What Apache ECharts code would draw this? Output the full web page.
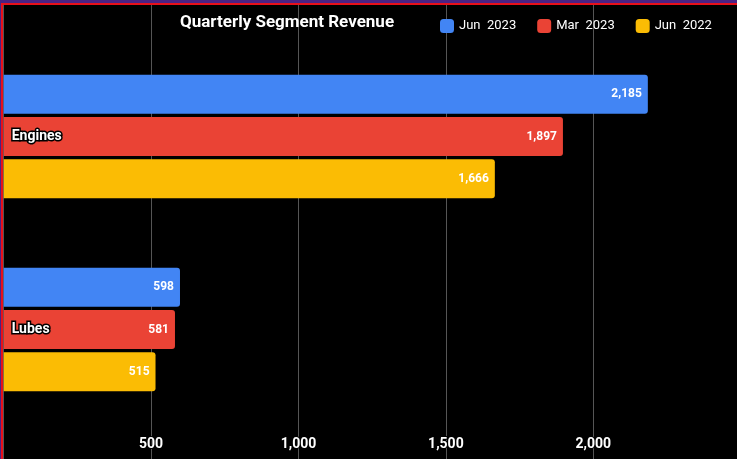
<!DOCTYPE html>
<html>
<head>
<meta charset="utf-8">
<script src="https://cdn.jsdelivr.net/npm/echarts@6/dist/echarts.min.js"></script>
<style>
  html, body { margin: 0; padding: 0; background: #000; }
  #chart { width: 737px; height: 459px; }
</style>
</head>
<body>
<div id="chart"></div>
<script>
const categories = ['Engines', 'Lubes'];
const seriesNames = ['Jun 2023', 'Mar 2023', 'Jun 2022'];
const jun2023 = [2185, 598];
const mar2023 = [1897, 581];
const jun2022 = [1666, 515];
const colors = ['#4285F4', '#EA4335', '#FBBC04'];

const fmt = v => String(v).replace(/\B(?=(\d{3})+(?!\d))/g, ',');

const chart = echarts.init(document.getElementById('chart'));

function makeSeries(name, data, color) {
  return {
    name,
    type: 'bar',
    xAxisIndex: 0,
    yAxisIndex: 0,
    data,
    barGap: '8%',
    barCategoryGap: '36%',
    itemStyle: { color, borderRadius: [0, 3, 3, 0] },
    label: {
      show: true,
      position: 'insideRight',
      distance: 6,
      color: '#fff',
      fontFamily: 'Roboto',
      fontWeight: 'bold',
      fontSize: 12,
      formatter: p => fmt(p.value),
    },
  };
}

chart.setOption({
  backgroundColor: '#000',
  animation: false,
  title: {
    text: 'Quarterly Segment Revenue',
    left: 175,
    top: 9,
    textStyle: { color: '#fff', fontFamily: 'Roboto', fontWeight: 'bold', fontSize: 17 },
  },
  legend: {
    data: seriesNames,
    left: 435,
    top: 14,
    icon: 'roundRect',
    itemWidth: 14,
    itemHeight: 14,
    itemGap: 21,
    formatter: name => name.replace(' ', '  '),
    textStyle: { color: '#fff', fontFamily: 'Roboto', fontSize: 13 },
  },
  grid: [
    { left: 3.7, width: 737, top: 40, bottom: 33, outerBoundsMode: 'none' },
    { left: 3.7, width: 737, top: 5, bottom: 0, outerBoundsMode: 'none' },
  ],
  xAxis: [
    {
      gridIndex: 0,
      type: 'value',
      min: 0,
      max: 2500,
      interval: 500,
      axisLine: { show: false },
      axisTick: { show: false },
      splitLine: { show: false },
      axisLabel: {
        margin: 11,
        color: '#fff',
        fontFamily: 'Roboto',
        fontWeight: 'bold',
        fontSize: 14,
        textBorderColor: '#000',
        textBorderWidth: 2,
        formatter: v => (v === 0 || v === 2500 ? '' : fmt(v)),
      },
    },
    {
      gridIndex: 1,
      type: 'value',
      min: 0,
      max: 2500,
      interval: 500,
      axisLine: { show: false },
      axisTick: { show: false },
      axisLabel: { show: false },
      splitLine: { show: true, lineStyle: { color: '#555', width: 1 } },
    },
  ],
  yAxis: [
    {
      gridIndex: 0,
      type: 'category',
      data: categories,
      inverse: true,
      axisLine: { show: false },
      axisTick: { show: false },
      axisLabel: {
        inside: true,
        margin: 8,
        color: '#fff',
        fontFamily: 'Roboto',
        fontWeight: 'bold',
        fontSize: 14,
        textBorderColor: '#000',
        textBorderWidth: 3,
      },
      z: 10,
    },
    {
      gridIndex: 1,
      type: 'value',
      show: false,
    },
  ],
  series: [
    makeSeries(seriesNames[0], jun2023, colors[0]),
    makeSeries(seriesNames[1], mar2023, colors[1]),
    makeSeries(seriesNames[2], jun2022, colors[2]),
  ],
  graphic: [
    { type: 'rect', left: 0, top: 0, shape: { width: 737, height: 3 }, style: { fill: '#4B2384' }, silent: true },
    { type: 'rect', left: 0, top: 3, shape: { width: 737, height: 2 }, style: { fill: '#E8101A' }, silent: true },
    { type: 'rect', left: 0, top: 0, shape: { width: 1, height: 459 }, style: { fill: '#4B2384' }, silent: true },
    { type: 'rect', left: 1, top: 3, shape: { width: 2, height: 456 }, style: { fill: '#E8101A' }, silent: true },
  ],
});
</script>
</body>
</html>
